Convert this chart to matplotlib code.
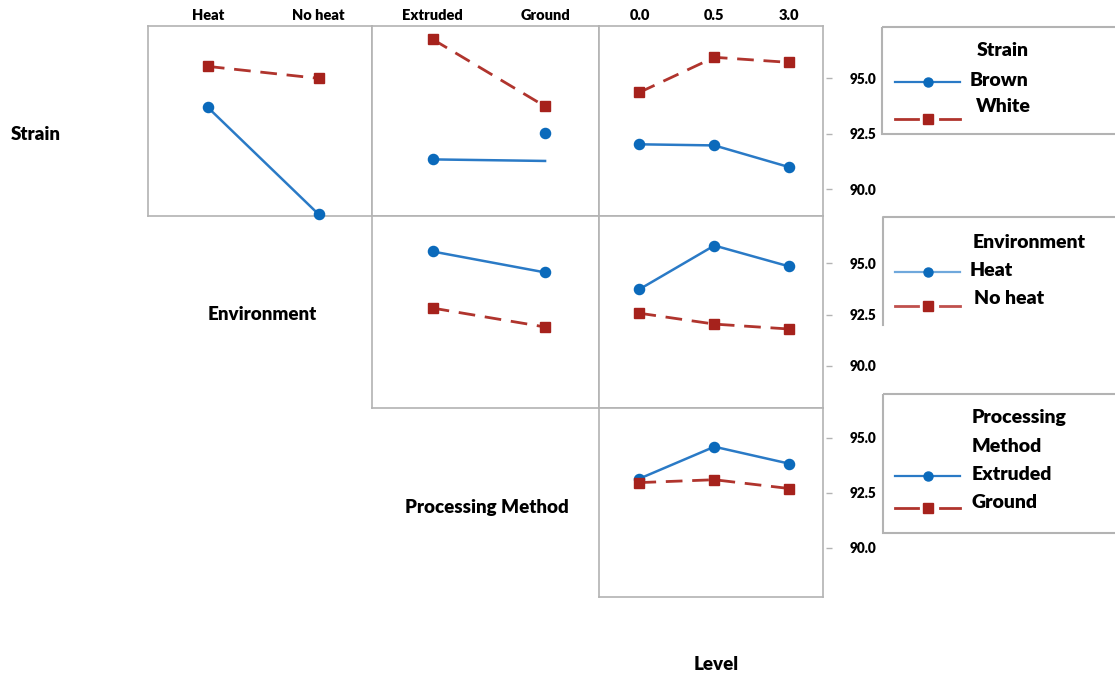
import matplotlib
matplotlib.use('Agg')
import matplotlib.pyplot as plt
from matplotlib.lines import Line2D
from matplotlib.patches import Rectangle

W, H = 1115, 677
plt.rcParams['font.family'] = ['Lato', 'DejaVu Sans']
plt.rcParams['font.weight'] = 'heavy'

# ---------------- data ----------------
env_levels = ['Heat', 'No heat']
proc_levels = ['Extruded', 'Ground']
level_levels = ['0.0', '0.5', '3.0']
strain_levels = ['Brown', 'White']
row_factors = ['Strain', 'Environment', 'Processing Method']

# Strain row
strain_env_brown = [93.69, 88.87]
strain_env_white = [95.54, 95.00]
strain_proc_brown_line = [91.35, 91.28]
strain_proc_brown_pts = [91.35, 92.52]
strain_proc_white = [96.76, 93.74]
strain_level_brown = [92.03, 91.98, 91.00]
strain_level_white = [94.37, 95.95, 95.72]
# Environment row
env_proc_heat = [95.58, 94.56]
env_proc_noheat = [92.82, 91.90]
env_level_heat = [93.74, 95.87, 94.85]
env_level_noheat = [92.57, 92.04, 91.80]
# Processing Method row
proc_level_extruded = [93.15, 94.60, 93.83]
proc_level_ground = [92.97, 93.10, 92.70]

yticks = [90.0, 92.5, 95.0]

# ---------------- style ----------------
BLUE_M = '#0b6abb'
BLUE_L = '#2a7ac6'
RED_M = '#a6221c'
RED_L = '#b0342d'
GRAY = '#b3b3b3'
FW = 'heavy'
FS_TICK = 9.8
FS_TOP = 10.5
FS_LAB = 13.5
FS_LEG = 14

cols = [(148, 372), (372, 599), (599, 823)]
rows = [(26, 216), (216, 408), (408, 597)]
row_ylim = [(88.8, 97.36), (87.95, 97.31), (87.77, 96.36)]

fig = plt.figure(figsize=(W / 100, H / 100), dpi=100)


def rect(x0, x1, y0, y1):
    return [x0 / W, 1 - y1 / H, (x1 - x0) / W, (y1 - y0) / H]


def panel(r, c, nlev):
    ax = fig.add_axes(rect(cols[c][0], cols[c][1], rows[r][0], rows[r][1]))
    ax.set_ylim(*row_ylim[r])
    if nlev == 2:
        ax.set_xlim(-0.54, 1.48)
    else:
        ax.set_xlim(-0.54, 2.45)
    for s in ax.spines.values():
        s.set_color(GRAY)
        s.set_linewidth(1.2)
    ax.tick_params(left=False, right=False, labelleft=False,
                   bottom=False, labelbottom=False, top=False)
    ax.set_yticks([])
    return ax


def blue(ax, x, y, line=True, marker=True):
    ax.plot(x, y, color=BLUE_L if line else 'none', lw=1.8,
            marker='o' if marker else None, ms=7.3,
            mfc=BLUE_M, mec=BLUE_M, zorder=3, clip_on=False)


def red(ax, x, y):
    ax.plot(x, y, color=RED_L, lw=2.0, ls=(0, (6, 3.5)), marker='s', ms=7.3,
            mfc=RED_M, mec=RED_M, zorder=3, clip_on=False)


def top_labels(ax, labels):
    ax.xaxis.tick_top()
    ax.set_xticks(range(len(labels)))
    ax.set_xticklabels(labels, fontsize=FS_TOP, fontweight=FW)
    ax.tick_params(axis='x', top=False, labeltop=True, pad=3, length=0)


def right_ticks(r):
    y0, y1 = rows[r]
    tax = fig.add_axes(rect(825, 826, y0, y1))
    tax.set_ylim(*row_ylim[r])
    tax.patch.set_visible(False)
    for s in tax.spines.values():
        s.set_visible(False)
    tax.set_xticks([])
    tax.yaxis.tick_right()
    tax.set_yticks(yticks)
    tax.set_yticklabels([f'{v:.1f}' for v in yticks], fontsize=FS_TICK,
                        fontweight=FW)
    tax.tick_params(axis='y', length=4, width=1, color=GRAY, pad=13)


# Row 0: Strain
ax = panel(0, 0, 2)
x2 = list(range(len(env_levels)))
blue(ax, x2, strain_env_brown)
red(ax, x2, strain_env_white)
top_labels(ax, env_levels)

ax = panel(0, 1, 2)
x2 = list(range(len(proc_levels)))
blue(ax, x2, strain_proc_brown_line, marker=False)
blue(ax, x2, strain_proc_brown_pts, line=False)
red(ax, x2, strain_proc_white)
top_labels(ax, proc_levels)

ax = panel(0, 2, 3)
x3 = list(range(len(level_levels)))
blue(ax, x3, strain_level_brown)
red(ax, x3, strain_level_white)
top_labels(ax, level_levels)
right_ticks(0)

# Row 1: Environment
ax = panel(1, 1, 2)
blue(ax, x2, env_proc_heat)
red(ax, x2, env_proc_noheat)

ax = panel(1, 2, 3)
blue(ax, x3, env_level_heat)
red(ax, x3, env_level_noheat)
right_ticks(1)

# Row 2: Processing Method
ax = panel(2, 2, 3)
blue(ax, x3, proc_level_extruded)
red(ax, x3, proc_level_ground)
right_ticks(2)

# ---------------- overlay (labels, legends) ----------------
ov = fig.add_axes([0, 0, 1, 1])
ov.set_xlim(0, W)
ov.set_ylim(H, 0)
ov.axis('off')
ov.patch.set_visible(False)

ov.text(36, 135, row_factors[0], fontsize=FS_LAB, fontweight=FW,
        ha='center', va='center')
ov.text(262, 315, row_factors[1], fontsize=FS_LAB, fontweight=FW,
        ha='center', va='center')
ov.text(487, 507, row_factors[2], fontsize=FS_LAB, fontweight=FW,
        ha='center', va='center')
ov.text(716, 665, 'Level', fontsize=FS_LAB, fontweight=FW,
        ha='center', va='center')

# legend boxes
ov.add_patch(Rectangle((882, 27), 260, 107, fill=False, ec=GRAY, lw=1.5))
ov.add_line(Line2D([1120, 883, 883], [217, 217, 325], color=GRAY, lw=1.5))
ov.add_patch(Rectangle((883, 394), 260, 139, fill=False, ec=GRAY, lw=1.5))


def sample_blue(y, lc=BLUE_L):
    ov.add_line(Line2D([895, 960], [y, y], color=lc, lw=1.6))
    ov.add_line(Line2D([928], [y], color=BLUE_M, marker='o', ms=6.5,
                       mfc=BLUE_M, mec=BLUE_M, ls='none'))


def sample_red(y, lc=RED_L):
    ov.add_line(Line2D([895, 918], [y, y], color=lc, lw=2.0))
    ov.add_line(Line2D([940, 960], [y, y], color=lc, lw=2.0))
    ov.add_line(Line2D([928], [y], color=RED_M, marker='s', ms=6.5,
                       mfc=RED_M, mec=RED_M, ls='none'))


def ltext(x, y, s, ha='left'):
    ov.text(x, y, s, fontsize=FS_LEG, fontweight=FW, ha=ha, va='center')


# Legend 1: Strain
ltext(1003, 51, 'Strain', ha='center')
sample_blue(82)
ltext(970, 81, strain_levels[0])
sample_red(119)
ltext(976, 106, strain_levels[1])

# Legend 2: Environment
ltext(973, 242, 'Environment')
sample_blue(272, lc='#6fa8dc')
ltext(970, 271, env_levels[0])
sample_red(306, lc='#c0504d')
ltext(974, 299, env_levels[1])

# Legend 3: Processing Method
ltext(972, 417, 'Processing')
ltext(972, 446, 'Method')
sample_blue(476)
ltext(972, 475, proc_levels[0])
sample_red(508)
ltext(972, 503, proc_levels[1])

fig.savefig('out.png', dpi=100)
